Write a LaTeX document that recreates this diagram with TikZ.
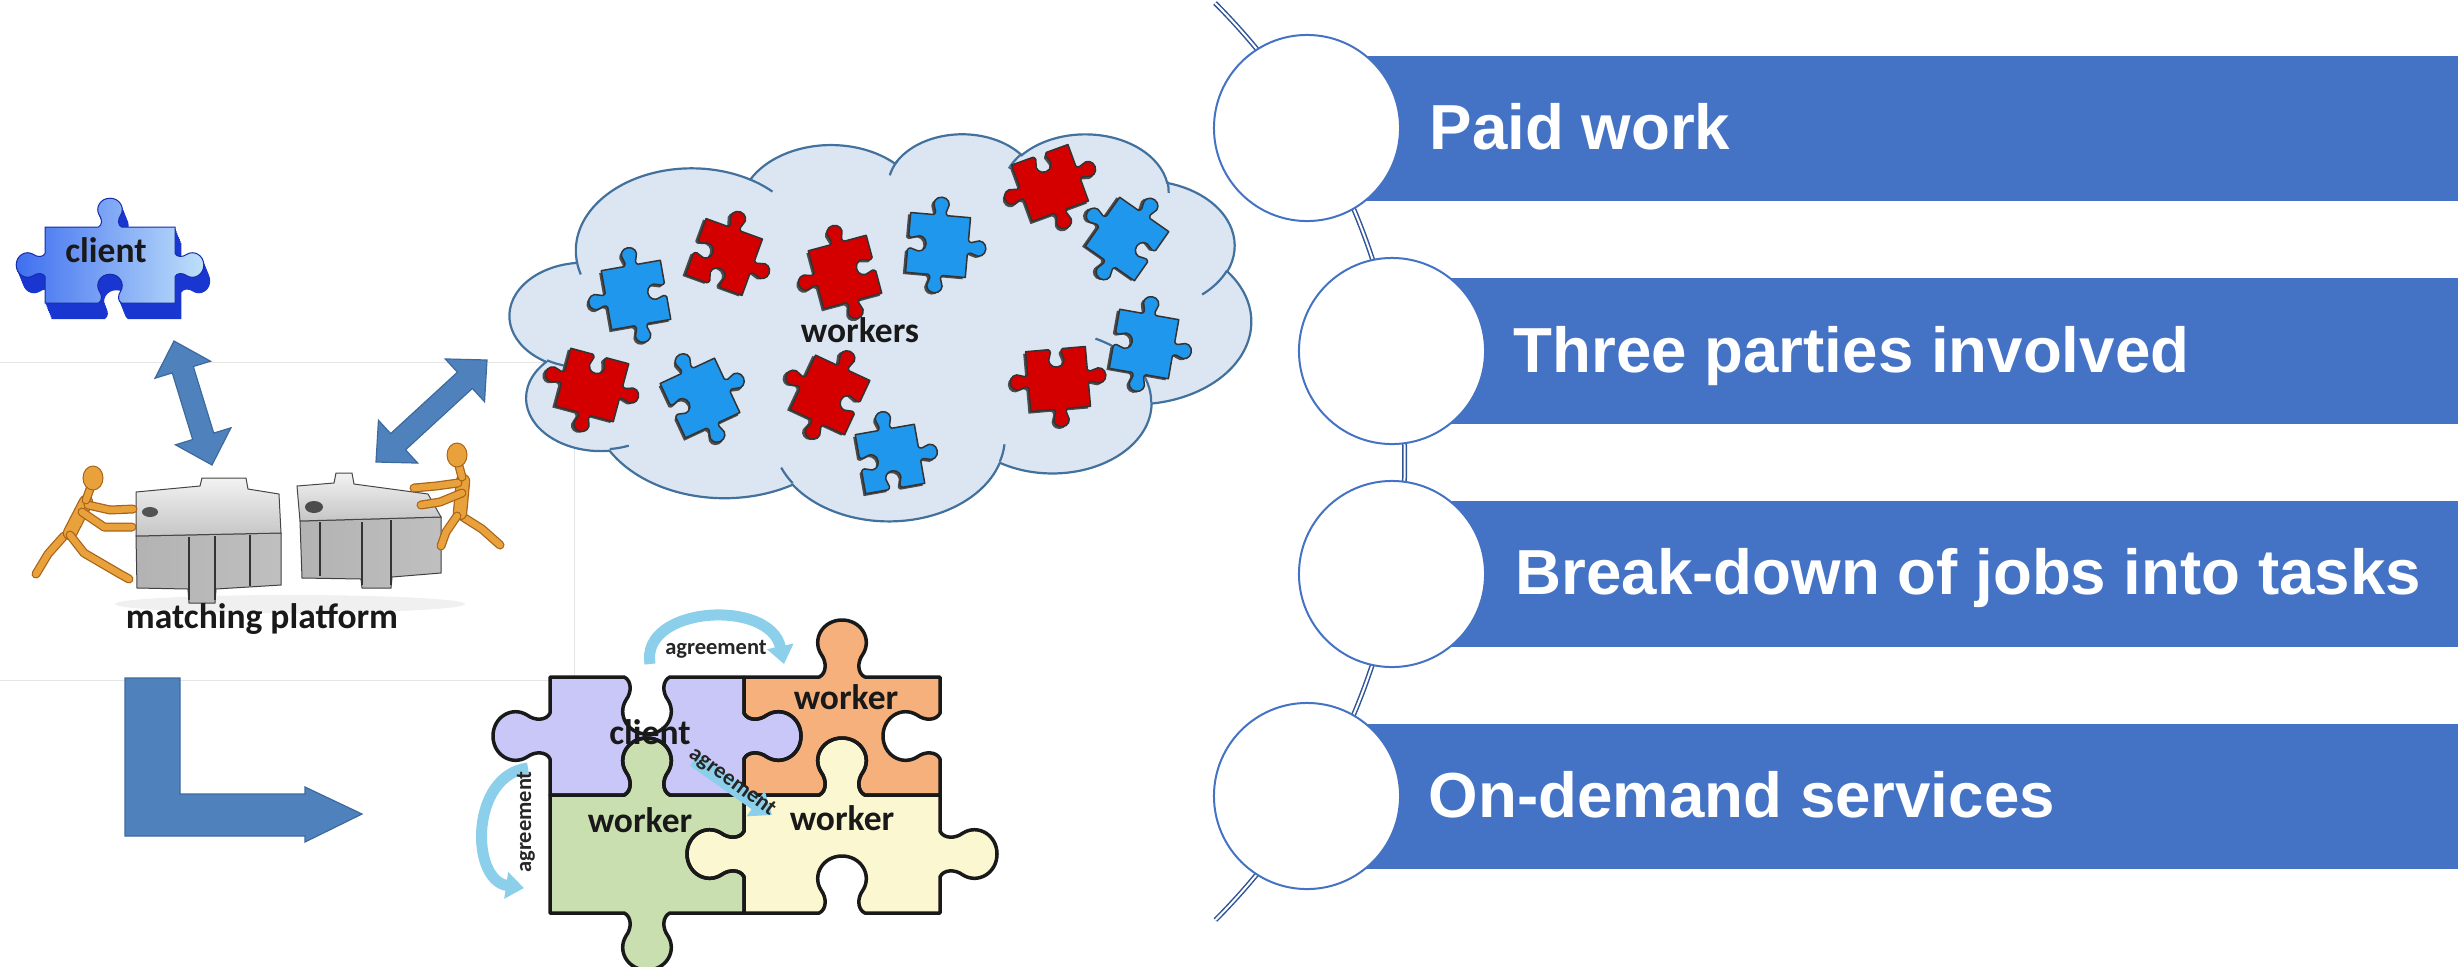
\documentclass[tikz,border=0pt]{standalone}
\usepackage{fontspec}
\usetikzlibrary{calc,arrows.meta}
\newfontfamily\barfont{Liberation Sans}
\newfontfamily\lblfont{Carlito}
\newlength\pxu \setlength\pxu{0.01cm}

\definecolor{barblue}{HTML}{4472C4}
\definecolor{spineblue}{HTML}{2F5597}
\definecolor{arrowblue}{HTML}{4F81BD}
\definecolor{arrowedge}{HTML}{3D6A9E}
\definecolor{cloudfill}{HTML}{DCE6F2}
\definecolor{cloudedge}{HTML}{41719C}
\definecolor{piecered}{HTML}{D40000}
\definecolor{pieceblue}{HTML}{1F97EC}
\definecolor{clientpurple}{HTML}{C9C7F7}
\definecolor{workerorange}{HTML}{F5B07C}
\definecolor{workergreen}{HTML}{CADFB0}
\definecolor{workeryellow}{HTML}{FBF7D0}
\definecolor{agreeblue}{HTML}{8CCFEA}
\definecolor{woodlight}{HTML}{E9A23B}
\definecolor{wooddark}{HTML}{A9641A}
\definecolor{clientdark}{HTML}{1A36D0}
\definecolor{clientmid}{HTML}{3F6FF0}
\definecolor{clientlight}{HTML}{BFE0FA}

% point on a jigsaw edge: start (#1,#2), unit direction (#3,#4), edge length #5,
% knob size #6, knob sense #7, tangential offset #8 and normal offset #9 (in knob units)
\newcommand\jp[9]{({(#1)+((#5)/2+(#8)*(#6))*(#3)+(#9)*(#6)*(#7)*(#4)},{(#2)+((#5)/2+(#8)*(#6))*(#4)-(#9)*(#6)*(#7)*(#3)})}
% one jigsaw edge with a knob (sense 1), a socket (-1) or flat (0)
\newcommand\jedge[7]{%
 -- \jp{#1}{#2}{#3}{#4}{#5}{#6}{#7}{-0.12}{0}
 .. controls \jp{#1}{#2}{#3}{#4}{#5}{#6}{#7}{-0.08}{0.02} and \jp{#1}{#2}{#3}{#4}{#5}{#6}{#7}{-0.08}{0.08} .. \jp{#1}{#2}{#3}{#4}{#5}{#6}{#7}{-0.11}{0.12}
 .. controls \jp{#1}{#2}{#3}{#4}{#5}{#6}{#7}{-0.16}{0.20} and \jp{#1}{#2}{#3}{#4}{#5}{#6}{#7}{-0.10}{0.30} .. \jp{#1}{#2}{#3}{#4}{#5}{#6}{#7}{0}{0.30}
 .. controls \jp{#1}{#2}{#3}{#4}{#5}{#6}{#7}{0.10}{0.30} and \jp{#1}{#2}{#3}{#4}{#5}{#6}{#7}{0.16}{0.20} .. \jp{#1}{#2}{#3}{#4}{#5}{#6}{#7}{0.11}{0.12}
 .. controls \jp{#1}{#2}{#3}{#4}{#5}{#6}{#7}{0.08}{0.08} and \jp{#1}{#2}{#3}{#4}{#5}{#6}{#7}{0.08}{0.02} .. \jp{#1}{#2}{#3}{#4}{#5}{#6}{#7}{0.12}{0}
 -- ({(#1)+(#5)*(#3)},{(#2)+(#5)*(#4)})}
% whole piece: corner (#1,#2), size #3 x #4, knob size #5, senses top/right/bottom/left
\newcommand\jigrect[9]{(#1,#2) \jedge{#1}{#2}{1}{0}{#3}{#5}{#6} \jedge{(#1)+(#3)}{#2}{0}{1}{#4}{#5}{#7} \jedge{(#1)+(#3)}{(#2)+(#4)}{-1}{0}{#3}{#5}{#8} \jedge{#1}{(#2)+(#4)}{0}{-1}{#4}{#5}{#9} -- cycle}
\newcommand\setjig[2]{\edef#1{#2}}

% small loose pieces
\setjig\jpA{\jigrect{-30}{-30}{60}{60}{60}{1}{-1}{1}{1}}
\setjig\jpB{\jigrect{-30}{-30}{60}{60}{60}{1}{1}{-1}{-1}}
\setjig\jpC{\jigrect{-30}{-30}{60}{60}{60}{1}{1}{1}{-1}}
\setjig\jpD{\jigrect{-30}{-30}{60}{60}{60}{-1}{1}{1}{1}}
% the 3D client piece
\setjig\pcTop{\jigrect{-65}{-38}{130}{76}{96}{1}{1}{-1}{1}}
% the assembled four-piece puzzle
\setjig\pzClient{\jigrect{550}{677}{194}{118}{190}{-1}{1}{-1}{1}}
\setjig\pzOrange{\jigrect{744}{677}{196}{118}{190}{1}{-1}{-1}{-1}}
\setjig\pzGreen{\jigrect{550}{795}{194}{118}{190}{1}{-1}{1}{0}}
\setjig\pzYellow{\jigrect{744}{795}{196}{118}{190}{1}{1}{-1}{1}}

% elliptical arc given by visual start angle and sweep (DrawingML convention)
\newcommand\parc[4]{%
 \pgfextra{%
  \pgfmathsetmacro\cldA{atan2((#1)*sin(#3),(#2)*cos(#3))}%
  \pgfmathsetmacro\cldB{atan2((#1)*sin((#3)+(#4)),(#2)*cos((#3)+(#4)))}%
  \pgfmathsetmacro\cldB{(\cldB-\cldA<0) ? \cldB+360 : \cldB}%
  \xdef\cldS{\cldA}\xdef\cldE{\cldB}}%
 arc[x radius=#1, y radius=#2, start angle=\cldS, end angle=\cldE]}

\newcommand\cloudpiece[4]{%
  \begin{scope}[shift={#1}, rotate=#2]
    \fill[black!70, xshift=-2.5\pxu, yshift=-2\pxu] #4;
    \filldraw[fill=#3, draw=black!80, line width=1.5\pxu, line join=round] #4;
  \end{scope}}

\newcommand\dblarrow[2]{%
  \filldraw[bigarrow] (#1) -- ($(#1)!3mm!(#2)!2.9mm!90:(#2)$) -- ($(#1)!3mm!(#2)!1.1mm!90:(#2)$)
   -- ($(#2)!3mm!(#1)!1.1mm!-90:(#1)$) -- ($(#2)!3mm!(#1)!2.9mm!-90:(#1)$) -- (#2)
   -- ($(#2)!3mm!(#1)!2.9mm!90:(#1)$) -- ($(#2)!3mm!(#1)!1.1mm!90:(#1)$)
   -- ($(#1)!3mm!(#2)!1.1mm!-90:(#2)$) -- ($(#1)!3mm!(#2)!2.9mm!-90:(#2)$) -- cycle;}

\newcommand\limb[1]{\draw[limbshade] #1; \draw[limb] #1;}
\newcommand\torso[1]{\draw[torsoshade] #1; \draw[torsofill] #1;}

\tikzset{
  lbl/.style={font=\lblfont\bfseries\fontsize{10.1}{12}\selectfont, text=black!90, inner sep=0pt},
  agreelbl/.style={font=\lblfont\bfseries\fontsize{6.4}{7}\selectfont, text=black!85, inner sep=0pt},
  bartext/.style={font=\barfont\bfseries\fontsize{18.1}{22}\selectfont, text=white, anchor=base west, inner sep=0pt},
  ringnode/.style={circle, draw=barblue, fill=white, line width=2\pxu, minimum size=1.86cm, inner sep=0pt},
  spine/.style={draw=spineblue, line width=1.5\pxu, double=white, double distance=2\pxu},
  bigarrow/.style={fill=arrowblue, draw=arrowedge, line width=1.2\pxu, line join=miter},
  cloudline/.style={draw=cloudedge, line width=2.2\pxu},
  limb/.style={draw=woodlight, line width=6.5\pxu, line cap=round, line join=round},
  limbshade/.style={draw=wooddark, line width=9\pxu, line cap=round, line join=round},
  torsofill/.style={draw=woodlight, line width=12\pxu, line cap=round},
  torsoshade/.style={draw=wooddark, line width=14.5\pxu, line cap=round},
  blocktop/.style={top color=gray!10, bottom color=gray!45, draw=gray!55!black, line width=1\pxu},
  blockfront/.style={left color=gray!60, middle color=gray!15, right color=gray!50, draw=gray!50!black, line width=1\pxu},
  puzzleline/.style={draw=black!90, line width=3.5\pxu, line join=round},
  agree/.style={draw=agreeblue, line width=11\pxu, -{Triangle[width=2.6mm,length=1.8mm]}},
}

\begin{document}
\begin{tikzpicture}[x=0.01cm, y=-0.01cm]
\useasboundingbox (0,0) rectangle (2458,966);

% faint frame of the left panel
\draw[black!10, line width=1\pxu] (0,362) -- (574,362) -- (574,680) -- (0,680);

% ---------- cloud of workers ----------
\begin{scope}[shift={(510,133)}, xscale=1.7153, yscale=0.8958]
  \path[fill=cloudfill, cloudline] (39.00,143.70)
    \parc{67.53}{91.90}{-190.4875}{123.7805}
    \parc{53.33}{72.67}{-144.1024}{89.9452}
    \parc{43.65}{59.45}{-145.8079}{99.7230}
    \parc{48.57}{65.95}{-130.9861}{117.2417}
    \parc{53.33}{72.73}{-78.7089}{109.0269}
    \parc{67.75}{92.20}{-46.2673}{130.2690}
    \parc{57.85}{78.67}{0.6250}{114.0333}
    \parc{67.52}{92.15}{22.4516}{115.1726}
    \parc{77.20}{105.43}{66.2426}{75.7110}
    \parc{43.60}{59.18}{-274.9421}{146.7356}
    \parc{43.45}{59.45}{-246.8285}{152.5189} -- cycle;
  \path[cloudline]
    (46.93,261.77) \parc{43.45}{59.45}{86.7420}{26.4295}
    (69.28,348.99) \parc{43.60}{59.18}{73.6105}{11.4475}
    (164.78,390.90) \parc{67.52}{92.15}{137.6242}{14.0811}
    (288.27,347.51) \parc{67.52}{92.15}{6.4533}{15.9984}
    (341.29,229.54) \parc{57.85}{78.67}{-70.2924}{70.9174}
    (417.98,153.54) \parc{53.33}{72.73}{30.3180}{27.7515}
    (383.24,54.26) \parc{48.57}{65.95}{-13.7443}{14.8589}
    (290.78,39.52) \parc{48.57}{65.95}{-149.1815}{18.1954}
    (221.41,47.20) \parc{43.65}{59.45}{-163.4943}{20.7645}
    (140.00,51.92) \parc{67.53}{91.90}{-66.7070}{12.3194}
    (41.27,157.89) \parc{67.53}{91.90}{157.6544}{11.8582};
\end{scope}

\cloudpiece{(636,295)}{10}{pieceblue}{\jpA}
\cloudpiece{(724,257)}{-20}{piecered}{\jpB}
\cloudpiece{(845,272)}{15}{piecered}{\jpA}
\cloudpiece{(938,245)}{-5}{pieceblue}{\jpC}
\cloudpiece{(1050,183)}{20}{piecered}{\jpD}
\cloudpiece{(1127,239)}{-35}{pieceblue}{\jpA}
\cloudpiece{(592,385)}{-15}{piecered}{\jpD}
\cloudpiece{(700,398)}{25}{pieceblue}{\jpC}
\cloudpiece{(830,395)}{-25}{piecered}{\jpA}
\cloudpiece{(890,459)}{10}{pieceblue}{\jpB}
\cloudpiece{(1058,379)}{5}{piecered}{\jpD}
\cloudpiece{(1144,344)}{-10}{pieceblue}{\jpC}
\node[lbl] (lblWorkers) at (860,330) {workers};

% ---------- client piece (3D) ----------
\foreach \dd in {16,14,...,2}{
  \fill[clientdark, shift={(110+0.4*\dd,265+\dd)}] \pcTop;
}
\shade[shift={(110,265)}, left color=clientmid, right color=clientlight] \pcTop;
\draw[shift={(110,265)}, clientdark!80!black, line width=1\pxu] \pcTop;
\node[lbl] (lblClient) at (106,250) {client};

% ---------- matching platform ----------
\fill[black!6] (290,604) ellipse[x radius=175, y radius=9];
% left block
\shadedraw[blockfront] (136,536) -- (281,533) -- (281,585) -- (216,589) -- (215,603) -- (189,603) -- (188,589) -- (137,588) -- cycle;
\shadedraw[blocktop] (136,492) -- (200,486) -- (202,478) -- (246,478) -- (248,489) -- (279,494) -- (281,533) -- (136,536) -- cycle;
\draw[gray!40!black, line width=1.2\pxu] (189,537) -- (189,600) (215,536) -- (215,600) (250,535) -- (250,586);
\fill[gray!65!black] (150,512) ellipse[x radius=8, y radius=5];
% right block
\shadedraw[blockfront] (300,521) -- (441,517) -- (441,573) -- (392,577) -- (391,588) -- (362,588) -- (361,579) -- (302,578) -- cycle;
\shadedraw[blocktop] (297,486) -- (334,483) -- (336,473) -- (352,473) -- (354,484) -- (428,494) -- (441,517) -- (300,521) -- cycle;
\draw[gray!40!black, line width=1.2\pxu] (362,522) -- (362,585) (391,520) -- (391,585) (320,522) -- (320,576);
\fill[gray!60!black] (314,507) ellipse[x radius=9, y radius=6];

% left figure pushing
\limb{(64,536) -- (48,554) -- (36,574)}
\torso{(86,502) -- (70,533)}
\limb{(70,535) -- (84,553) -- (120,574) -- (129,579)}
\limb{(82,512) -- (104,527) -- (132,527)}
\limb{(88,505) -- (110,510) -- (133,509)}
\limb{(90,489) -- (86,500)}
\fill[woodlight, draw=wooddark, line width=1\pxu] (93,478) ellipse[x radius=10, y radius=12];
% right figure pushing
\limb{(463,517) -- (482,529) -- (500,545)}
\torso{(463,481) -- (460,513)}
\limb{(457,516) -- (446,532) -- (441,546)}
\limb{(462,493) -- (440,502) -- (421,505)}
\limb{(458,483) -- (436,486) -- (414,488)}
\limb{(459,466) -- (462,477)}
\fill[woodlight, draw=wooddark, line width=1\pxu] (457,455) ellipse[x radius=10, y radius=12];
\node[lbl] (lblPlatform) at (262,619) {matching platform};

% ---------- connectors ----------
\coordinate (arrClient) at (174,341);
\coordinate (arrPlatL) at (212,465);
\coordinate (arrPlatR) at (376,462);
\coordinate (arrCloud) at (487,360);
\dblarrow{arrClient}{arrPlatL}
\dblarrow{arrPlatR}{arrCloud}

\coordinate (bendTop) at (125,678);
\filldraw[bigarrow] (bendTop) -- (180,678) -- (180,794) -- (305,794) -- (305,787) -- (362,814)
  -- (305,842) -- (305,836) -- (125,836) -- cycle;

% ---------- assembled puzzle ----------
\fill[clientpurple] \pzClient;
\fill[workerorange] \pzOrange;
\fill[workergreen] \pzGreen;
\fill[workeryellow] \pzYellow;
\draw[puzzleline] \pzClient;
\draw[puzzleline] \pzOrange;
\draw[puzzleline] \pzGreen;
\draw[puzzleline] \pzYellow;
\node[lbl] (pzClientLbl) at (650,732) {client};
\node[lbl] (pzOrangeLbl) at (846,697) {worker};
\node[lbl] (pzGreenLbl) at (640,820) {worker};
\node[lbl] (pzYellowLbl) at (842,818) {worker};

\coordinate (agTopS) at (650,664);
\coordinate (agTopE) at (784,664);
\draw[agree] (agTopS) .. controls (640,606) and (770,598) .. (agTopE);
\node[agreelbl] (agTopLbl) at (716,649) {agreement};
\coordinate (agLeftS) at (528,768);
\coordinate (agLeftE) at (524,888);
\draw[agree] (agLeftS) .. controls (470,775) and (470,880) .. (agLeftE);
\node[agreelbl, rotate=90] (agLeftLbl) at (526,822) {agreement};
\coordinate (agMidS) at (694,760);
\coordinate (agMidE) at (772,815);
\draw[agree, line width=14\pxu, -{Triangle[width=3mm,length=2mm]}] (agMidS) -- (agMidE);
\node[agreelbl, rotate=-36] (agMidLbl) at (732,782) {agreement};

% ---------- list on the right ----------
\coordinate (spineTop) at (1215,3);
\draw[spine] (spineTop) arc[start angle=-44.94, end angle=44.89, radius=649.4];

\fill[barblue] (1307,56) rectangle (2458,201);
\fill[barblue] (1392,278) rectangle (2458,424);
\fill[barblue] (1392,501) rectangle (2458,647);
\fill[barblue] (1307,724) rectangle (2458,869);

\node[ringnode] (ring1) at (1307,128) {};
\node[ringnode] (ring2) at (1392,351) {};
\node[ringnode] (ring3) at (1392,574) {};
\node[ringnode] (ring4) at (1307,796) {};

\node[bartext] (item1) at (1429,149) {Paid work};
\node[bartext] (item2) at (1513,372) {Three parties involved};
\node[bartext] (item3) at (1515,594) {Break-down of jobs into tasks};
\node[bartext] (item4) at (1428,817) {On-demand services};
\end{tikzpicture}
\end{document}
